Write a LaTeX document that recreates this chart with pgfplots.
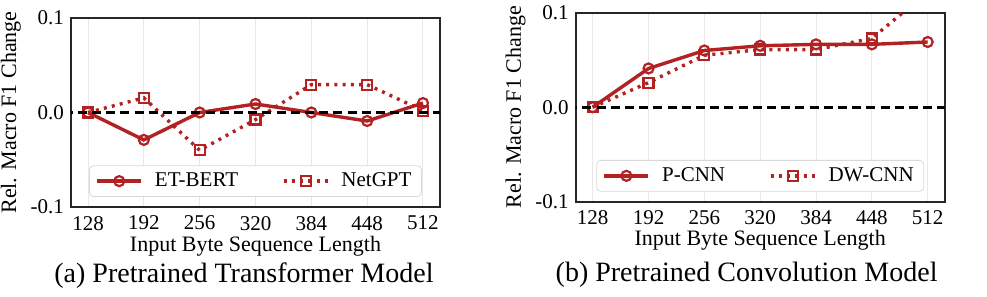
\documentclass[border=0pt]{standalone}
\usepackage{fontspec}
\setmainfont{Liberation Serif}
\usepackage{pgfplots}
\pgfplotsset{compat=1.18}
\definecolor{fb}{RGB}{178,34,34}
\pgfplotsset{
  myax/.style={
    scale only axis, width=184.5pt, height=94.5pt,
    xmin=108.5, xmax=531.5, ymin=-0.1, ymax=0.1,
    xtick={128,192,256,320,384,448,512},
    xticklabels={128,192,256,320,384,448,512},
    ytick={-0.1,0,0.1}, yticklabels={-0.1,0.0,0.1},
    major tick length=0pt,
    xmajorgrids, grid style={gray!18, line width=0.5pt},
    axis line style={line width=0.8pt, black!85},
    tick label style={font=\fontsize{10.5}{12}\selectfont},
    xticklabel style={yshift=-1pt},
    label style={font=\fontsize{11}{12}\selectfont},
    xlabel={Input Byte Sequence Length},
    ylabel={Rel. Macro F1 Change},
    xlabel style={yshift=4pt},
    ylabel style={yshift=-2pt},
    clip marker paths=true,
    legend columns=2,
    legend style={at={(0.5,0.053)}, anchor=south, draw=gray!30, rounded corners=2pt,
      font=\fontsize{10.5}{12}\selectfont, inner xsep=3pt, inner ysep=1.5pt,
      /tikz/every even column/.append style={column sep=20pt},
      /tikz/every odd column/.append style={column sep=4pt}},
    legend image code/.code={\draw[mark repeat=2,mark phase=2,#1] plot coordinates {(0pt,0pt) (11pt,0pt) (22pt,0pt)};},
  },
  s1/.style={fb, line width=1.7pt, mark=o, mark size=2.5pt, mark options={solid, line width=1.1pt, fill=white}},
  s2/.style={fb, line width=1.7pt, dash pattern=on 1.5pt off 2.6pt, mark=square, mark size=2.5pt, mark options={solid, line width=1.1pt, fill=white}},
  zl/.style={black, line width=1.4pt, dash pattern=on 4.5pt off 2.6pt, forget plot},
}
\begin{document}
\begin{tikzpicture}
\useasboundingbox (0,0) rectangle (493.5pt,148pt);
\begin{axis}[myax, at={(35.5pt,44.5pt)}, anchor=south west]
\addplot[s1] coordinates {(128,0) (192,-0.029) (256,0) (320,0.009) (384,0) (448,-0.009) (512,0.010)};
\addlegendentry{ET-BERT}
\addplot[s2] coordinates {(128,0) (192,0.0155) (256,-0.040) (320,-0.0075) (384,0.0295) (448,0.0295) (512,0.002)};
\addlegendentry{NetGPT}
\addplot[zl] coordinates {(100,0) (540,0)};
\end{axis}
\begin{axis}[myax, at={(287.85pt,47.15pt)}, anchor=south west]
\addplot[s1] coordinates {(128,0) (192,0.041) (256,0.060) (320,0.065) (384,0.0665) (448,0.0665) (512,0.069)};
\addlegendentry{P-CNN}
\addplot[s2] coordinates {(128,0) (192,0.026) (256,0.055) (320,0.061) (384,0.061) (448,0.0728) (512,0.122)};
\addlegendentry{DW-CNN}
\addplot[zl] coordinates {(100,0) (540,0)};
\end{axis}
\node at (122pt,10pt) {\fontsize{14}{16}\selectfont (a) Pretrained Transformer Model};
\node at (373.3pt,10.5pt) {\fontsize{14}{16}\selectfont (b) Pretrained Convolution Model};
\end{tikzpicture}
\end{document}
